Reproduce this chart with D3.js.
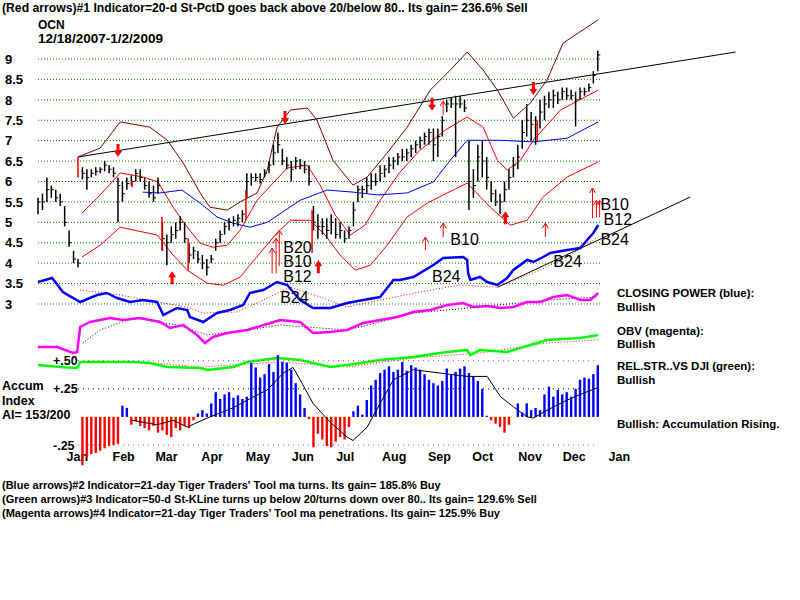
<!DOCTYPE html>
<html>
<head>
<meta charset="utf-8">
<script src="https://d3js.org/d3.v7.min.js"></script>
<style>
body { margin: 0; background: #fff; }
text { font-family: "Liberation Sans", Arial, sans-serif; }
.bold { font-weight: bold; }
</style>
</head>
<body>
<script>
// OCN daily chart, 12/18/2007 - 1/2/2009, bars every 3 calendar days
var startDate = new Date(2007, 11, 11),
    endDate = new Date(2009, 0, 2);

// [low, high, close]
var priceBars = [
    [5.2,5.6,5.5],[5.3,5.7,5.5],[5.5,6.1,5.8],[5.6,5.9,5.8],[5.5,5.8,5.6],
    [5.4,5.7,5.5],[4.9,5.4,5.0],[4.4,4.8,4.5],[4.0,4.3,4.1],[3.9,4.1,4.0],
    [6.05,6.35,6.2],[5.8,6.3,6.1],[6.1,6.3,6.2],[6.15,6.35,6.25],[6.2,6.35,6.3],
    [6.25,6.5,6.4],[6.2,6.4,6.3],[6.1,6.35,6.2],[5.0,6.1,5.9],[5.5,6.0,5.7],
    [5.8,6.1,5.95],[5.9,6.15,6.0],[6.0,6.3,6.2],[6.0,6.3,6.1],[5.8,6.1,5.9],
    [5.6,6.0,5.7],[5.5,5.9,5.6],[5.7,6.1,5.9],[4.3,5.0,4.6],[3.95,4.7,4.5],
    [4.5,4.9,4.7],[4.6,5.0,4.8],[4.8,5.15,5.0],[4.5,5.0,4.6],[4.0,4.5,4.2],
    [4.1,4.4,4.3],[4.0,4.3,4.1],[3.85,4.2,4.0],[3.7,4.1,3.9],[4.0,4.2,4.1],
    [4.3,4.6,4.5],[4.5,4.8,4.7],[4.7,5.0,4.9],[4.8,5.1,5.0],[4.9,5.15,5.05],
    [4.9,5.2,5.1],[5.0,5.3,5.2],[5.6,6.2,6.0],[5.9,6.2,6.1],[6.0,6.2,6.1],
    [5.95,6.2,6.05],[6.1,6.3,6.2],[6.2,6.5,6.4],[6.4,6.9,6.7],[6.7,7.2,6.9],
    [6.4,6.8,6.5],[6.3,6.6,6.4],[6.0,6.5,6.3],[6.3,6.6,6.5],[6.3,6.55,6.4],
    [6.2,6.5,6.3],[5.9,6.4,6.0],[4.8,5.4,5.0],[4.6,5.2,4.9],[4.7,5.1,4.9],
    [4.6,5.1,4.8],[4.7,5.2,5.0],[4.6,5.1,4.7],[4.6,5.0,4.8],[4.5,4.8,4.6],
    [4.6,4.9,4.8],[4.9,5.5,5.3],[5.5,5.9,5.8],[5.6,5.9,5.8],[5.7,6.1,5.9],
    [5.8,6.2,6.0],[5.9,6.2,6.0],[6.0,6.4,6.2],[6.1,6.4,6.3],[6.2,6.6,6.4],
    [6.3,6.6,6.5],[6.4,6.7,6.6],[6.5,6.8,6.6],[6.5,6.8,6.7],[6.6,6.9,6.8],
    [6.7,7.0,6.9],[6.8,7.1,7.0],[6.9,7.2,7.1],[6.9,7.3,7.2],[6.5,7.3,6.9],
    [6.6,7.3,7.1],[7.1,7.6,7.5],[7.7,8.0,7.9],[7.8,8.05,7.9],[6.6,8.1,7.9],
    [7.8,8.1,7.9],[7.7,8.0,7.8],[5.3,7.0,6.0],[5.6,6.3,5.9],[6.0,6.9,6.6],
    [6.1,7.0,6.5],[5.8,6.6,6.1],[5.5,6.0,5.7],[5.4,5.8,5.5],[5.2,5.7,5.5],
    [5.5,6.0,5.8],[5.8,6.3,6.1],[6.1,6.6,6.4],[6.3,6.9,6.6],[6.8,7.5,7.2],
    [7.1,7.9,7.5],[7.0,7.7,7.4],[6.9,7.6,7.4],[7.3,8.0,7.7],[7.5,8.1,7.9],
    [7.8,8.2,8.0],[7.8,8.25,8.1],[7.9,8.2,8.0],[8.0,8.3,8.2],[8.0,8.3,8.1],
    [8.0,8.25,8.1],[7.35,8.2,8.0],[8.0,8.3,8.2],[8.1,8.3,8.2],[8.2,8.4,8.3],
    [8.4,8.7,8.6],[8.7,9.2,9.1]
];

// bands and moving average, [bar index, price]
var upperBand = [[9,6.6],[14,6.82],[18.5,7.46],[25.2,7.33],[29.1,7.01],[32.7,6.45],[36.5,5.72],[38.7,5.37],
    [42.6,5.3],[45.5,5.5],[49.3,5.72],[51.6,6.28],[53.8,7.33],[56.8,7.75],[60.6,7.8],[62.8,7.5],[66.4,6.52],
    [70.9,5.91],[74.1,6.11],[78.6,6.7],[83.1,7.33],[88.3,8.24],[92.8,8.73],[96.6,9.17],[100.2,8.73],
    [103.4,8.24],[107,7.55],[110.8,7.92],[114.6,8.49],[118.2,9.39],[123.6,9.78],[126.1,9.96]];
var midBand = [[9.9,5.23],[14,5.67],[18.5,6.21],[23.6,6.11],[27,5.99],[30.4,5.37],[33.6,4.88],[36.5,4.49],
    [39.4,4.39],[42.6,4.44],[45.5,4.81],[49.3,5.54],[52.9,5.96],[56.1,6.33],[60.6,6.4],[63.5,5.91],[66.9,5.18],
    [70.3,4.69],[73.6,4.93],[77,5.54],[81.5,6.23],[86,6.77],[91.7,7.26],[96.6,7.58],[100.2,7.33],[103.4,6.52],
    [105.6,6.28],[108.6,6.52],[111.5,7.01],[117.6,7.75],[126.1,8.24]];
var lowerBand = [[9.9,4.15],[14,4.44],[18.5,4.88],[26.8,4.69],[30.4,4.2],[33.6,3.83],[38.1,3.51],[41.7,3.46],
    [45.5,3.66],[50,4.25],[53.8,4.74],[56.8,5.05],[61.3,5.05],[64.6,4.69],[68,4.2],[71.4,3.83],[74.8,3.95],
    [78.6,4.44],[83.1,5.13],[87.6,5.47],[92.1,5.72],[96.6,5.96],[101.8,5.37],[106.3,4.93],[110.1,5.05],
    [113.7,5.62],[119.1,6.11],[126.1,6.48]];
var blueMA = [[23.6,5.74],[27.5,5.72],[32.4,5.79],[36.5,5.47],[40.3,5.13],[43.9,4.98],[47.7,4.88],[51.6,5.0],
    [59,5.54],[65.1,5.79],[70.9,5.74],[76.4,5.67],[83.1,5.72],[89,5.99],[92.8,6.52],[96.6,7.01],[104.1,7.01],
    [111.5,6.97],[119.1,7.06],[126.1,7.46]];

var upperTrend = [[9, 6.6], [157, 9.17]];
var lowerTrend = [[103.4, 3.41], [146.8, 5.62]];

// [bar index, low, high] red signal bars
var signalBars = [[9,6.1,6.6],[21.2,5.86,6.03],[27.9,4.32,5.13],[33.8,3.83,4.61],[46.8,5.05,5.79],
    [61.7,4.25,5.3],[112.4,6.97,7.5]];
// [bar index, tip price, direction]
var bigArrows = [[18,6.6,"down"],[55.6,7.41,"down"],[88.7,7.73,"down"],[111.5,8.12,"down"],
    [30.2,3.8,"up"],[63.1,4.07,"up"],[105.2,5.27,"up"]];
// [bar index, tip price, tail price]
var thinArrows = [[87.2,4.64,4.32],[91.2,4.98,4.64],[114.2,4.98,4.64],[91.2,7.97,7.63],
    [52.7,4.37,3.75],[53.6,4.61,3.75],[54.3,4.81,3.93],[124.8,5.84,5.1],[125.7,5.54,5.13],[126.4,5.54,5.13]];
// [label, bar index, price at baseline]
var signalLabels = [["B20",55.2,4.25],["B10",55.2,3.9],["B12",55.2,3.53],["B24",54.5,3.02],
    ["B10",92.8,4.44],["B24",88.7,3.53],["B24",116,3.9],["B10",126.6,5.3],["B12",127.3,4.93],["B24",126.6,4.44]];

var priceTicks = [9, 8.5, 8, 7.5, 7, 6.5, 6, 5.5, 5, 4.5, 4, 3.5, 3];

// closing power (blue) and its ma
var closingPower = [[0,38],[3.2,42],[5.6,28],[9.5,18],[13.3,25],[15.5,27],[17.8,22],[20.7,18],[23.6,20],
    [26.8,18],[28.2,5],[31.3,12],[33.6,10],[34.2,3],[37.2,-2],[40.3,7],[43.2,10],[46.2,15],[47.7,27],
    [50.7,30],[53.8,38],[56.1,35],[59,20],[61.9,12],[65.8,12],[69.6,17],[73.2,20],[77,23],[80,40],
    [81.5,40],[84.5,43],[89,55],[91.2,62],[95.7,63],[96.6,60],[96.8,47],[97.3,40],[99.5,43],[101.1,38],
    [103.4,35],[105.6,42],[107,50],[110.1,60],[111.5,58],[113.7,63],[115.3,67],[119.1,70],[122.1,72],
    [123.6,80],[125,87],[126.1,95]];
var closingPowerMA = [[9.5,30],[18.5,25],[26.8,18],[33.6,13],[37.2,7],[44.8,8],[50.7,20],[56.8,33],
    [63.5,23],[69.6,13],[77,20],[86,28],[95,35],[103.4,33],[113.1,50],[119.8,65],[126.1,83]];

// OBV (magenta) and its ma
var obv = [[0,13],[4.3,13],[7.9,7],[8.8,8],[9.5,33],[11.7,38],[16.2,42],[19.1,40],[23,42],[27.5,38],
    [29.7,32],[32.7,35],[35.8,25],[37.6,17],[39.4,23],[42.6,27],[47.1,30],[52.3,37],[54.5,40],[59,38],
    [61.9,27],[65.8,28],[69.6,30],[73.2,37],[77,40],[80.9,43],[84.5,48],[88.3,50],[92.1,55],[95.7,57],
    [98,53],[101.1,54],[104.1,52],[107,53],[110.1,58],[113.1,58],[116,63],[119.1,65],[122.1,60],
    [124.3,60],[126.1,67]];
var obvMA = [[10.1,17],[14,30],[21.4,42],[31.3,35],[38.1,25],[47.1,30],[54.5,35],[63.5,32],[69.6,30],
    [77,38],[84.5,47],[99.5,53],[114.6,60],[126.1,63]];

// relative strength vs DJI (green) and its ma
var relStrength = [[0,15],[5,13],[8.8,12],[9.5,18],[14,18],[21.4,18],[25.2,17],[29.1,13],[36.5,12],
    [38.1,10],[43.9,13],[47.1,18],[53.8,22],[59,20],[61.9,17],[65.8,13],[69.6,15],[77,20],[84.5,23],
    [92.1,28],[96.6,30],[97.3,25],[99.5,30],[105.6,28],[110.8,35],[114.6,40],[122.1,42],[126.1,45]];
var relStrengthMA = [[23.6,18],[36.5,13],[54.5,18],[69.6,13],[84.5,22],[99.5,27],[114.6,37],[126.1,40]];

// accumulation index, one value per price bar
var accumValues = [
    null,null,null,null,null,null,null,null,null,null,
    -0.43,-0.36,-0.33,-0.32,-0.30,-0.28,-0.26,-0.25,-0.24,0.10,
    0.08,-0.07,-0.04,-0.08,-0.10,-0.12,-0.08,-0.14,-0.12,-0.16,
    -0.18,-0.10,-0.12,-0.08,-0.10,-0.03,0.03,0.06,0.03,0.12,
    0.22,0.16,0.20,0.22,0.17,0.19,0.16,0.18,0.48,0.44,
    0.35,0.38,0.47,0.40,0.55,0.49,0.48,0.42,0.30,0.20,
    0.08,-0.02,-0.27,-0.15,-0.20,-0.26,-0.27,-0.22,-0.18,-0.20,
    -0.09,0.05,0.10,0.02,0.15,0.28,0.33,0.39,0.42,0.45,
    0.40,0.42,0.49,0.41,0.46,0.44,0.42,0.38,0.33,0.30,
    0.28,0.32,0.43,0.38,0.40,0.43,0.45,0.39,0.36,0.32,
    0.25,0.01,-0.03,-0.06,-0.09,-0.14,-0.07,0.00,0.12,0.04,
    0.12,0.06,0.08,0.06,0.20,0.27,0.18,0.24,0.20,0.22,
    0.18,0.25,0.33,0.35,0.34,0.38,0.46
];
var accumMA = [[21.2,-0.03],[26.8,-0.07],[30.4,-0.03],[33.6,-0.09],[38.1,-0.01],[43.9,0.08],[47.1,0.15],
    [51.6,0.24],[55.2,0.39],[57.4,0.44],[59,0.33],[61.9,0.12],[65.8,-0.05],[69.6,-0.18],[70.9,-0.21],
    [74.1,-0.09],[77,0.12],[80,0.33],[84.5,0.42],[90.5,0.39],[96.6,0.36],[101.1,0.36],[104.1,0.18],
    [107,0.09],[110.1,0],[111.5,-0.01],[114.6,0.06],[119.1,0.15],[122.1,0.2],[125.9,0.26]];
var accumTicks = [0.5, 0.25, -0.25];

var svg = d3.select("body").append("svg")
    .attr("width", 800)
    .attr("height", 600)
    .style("background", "#fff");

var xTime = d3.scaleTime().domain([startDate, endDate]).range([38, 612.6]);
function xi(idx) {
    return xTime(d3.timeHour.offset(startDate, Math.round(idx * 72)));
}
var y = d3.scaleLinear().domain([3, 9]).range([304, 59]);
var yCP = d3.scaleLinear().domain([0, 100]).range([320, 220]);
var yOBV = d3.scaleLinear().domain([0, 100]).range([360, 260]);
var yRS = d3.scaleLinear().domain([0, 100]).range([380, 280]);
var yA = d3.scaleLinear().domain([-0.25, 0.5]).range([445, 360.7]);

function lineOf(scale) {
    return d3.line().x(function (d) { return xi(d[0]); }).y(function (d) { return scale(d[1]); });
}

// price grid
svg.append("g").selectAll("line")
    .data(priceTicks)
    .enter().append("line")
    .attr("x1", 38).attr("x2", 600)
    .attr("y1", function (d) { return y(d); })
    .attr("y2", function (d) { return y(d); })
    .attr("stroke", "#008000")
    .attr("stroke-dasharray", "1,2");

var yAxis = svg.append("g").attr("class", "bold")
    .call(d3.axisLeft(y).tickValues(priceTicks).tickFormat(d3.format("")).tickSize(0));
yAxis.select(".domain").remove();
yAxis.selectAll("text")
    .attr("x", 5).attr("text-anchor", "start")
    .attr("font-size", 13).attr("font-family", "Liberation Sans, Arial").attr("fill", "#000");

// month axis
var mAxis = svg.append("g").attr("class", "bold").attr("transform", "translate(0,448)")
    .call(d3.axisBottom(xTime).ticks(d3.timeMonth.every(1)).tickFormat(d3.timeFormat("%b")).tickSize(0));
mAxis.select(".domain").remove();
mAxis.selectAll("text")
    .attr("y", 13).attr("dy", 0).attr("dx", -3).attr("text-anchor", "start")
    .attr("font-size", 12.5).attr("font-family", "Liberation Sans, Arial").attr("fill", "#000");

// bands
svg.append("path").datum(upperBand).attr("d", lineOf(y))
    .attr("fill", "none").attr("stroke", "#800000");
svg.append("path").datum(midBand).attr("d", lineOf(y))
    .attr("fill", "none").attr("stroke", "#ff0000");
svg.append("path").datum(lowerBand).attr("d", lineOf(y))
    .attr("fill", "none").attr("stroke", "#ff0000");
svg.append("path").datum(blueMA).attr("d", lineOf(y))
    .attr("fill", "none").attr("stroke", "#0000ff");

// trend lines
[upperTrend, lowerTrend].forEach(function (t) {
    svg.append("path").datum(t).attr("d", lineOf(y))
        .attr("fill", "none").attr("stroke", "#000");
});

// price bars
var bars = svg.append("g");
bars.selectAll("line.hl")
    .data(priceBars)
    .enter().append("line")
    .attr("class", "hl")
    .attr("x1", function (d, i) { return xi(i); })
    .attr("x2", function (d, i) { return xi(i); })
    .attr("y1", function (d) { return y(d[0]); })
    .attr("y2", function (d) { return y(d[1]); })
    .attr("stroke", "#000").attr("stroke-width", 1.5);
bars.selectAll("line.cl")
    .data(priceBars)
    .enter().append("line")
    .attr("class", "cl")
    .attr("x1", function (d, i) { return xi(i); })
    .attr("x2", function (d, i) { return xi(i) + 2.5; })
    .attr("y1", function (d) { return y(d[2]); })
    .attr("y2", function (d) { return y(d[2]); })
    .attr("stroke", "#000");

// red signal bars
svg.append("g").selectAll("line")
    .data(signalBars)
    .enter().append("line")
    .attr("x1", function (d) { return xi(d[0]); })
    .attr("x2", function (d) { return xi(d[0]); })
    .attr("y1", function (d) { return y(d[1]); })
    .attr("y2", function (d) { return y(d[2]); })
    .attr("stroke", "#ff0000").attr("stroke-width", 1.5);

// thick arrows
svg.append("g").selectAll("path")
    .data(bigArrows)
    .enter().append("path")
    .attr("d", function (d) {
        var px = xi(d[0]), py = y(d[1]);
        var s = d[2] === "down" ? -1 : 1; // body is above tip for down arrow
        var p = "M" + (px - 1.5) + "," + (py + s * 13);
        p += "L" + (px + 1.5) + "," + (py + s * 13);
        p += "L" + (px + 1.5) + "," + (py + s * 6);
        p += "L" + (px + 4) + "," + (py + s * 6);
        p += "L" + px + "," + py;
        p += "L" + (px - 4) + "," + (py + s * 6);
        p += "L" + (px - 1.5) + "," + (py + s * 6) + "Z";
        return p;
    })
    .attr("fill", "#ff0000");

// thin arrows
svg.append("g").selectAll("path")
    .data(thinArrows)
    .enter().append("path")
    .attr("d", function (d) {
        var px = xi(d[0]), tip = y(d[1]), tail = y(d[2]);
        return "M" + px + "," + tail + "L" + px + "," + tip +
            "M" + (px - 3) + "," + (tip + 5) + "L" + px + "," + tip + "L" + (px + 3) + "," + (tip + 5);
    })
    .attr("fill", "none").attr("stroke", "#ff0000");

// closing power
svg.append("path").datum(closingPowerMA).attr("d", lineOf(yCP))
    .attr("fill", "none").attr("stroke", "#ff0000").attr("stroke-dasharray", "1,2");
svg.append("path").datum(closingPower).attr("d", lineOf(yCP))
    .attr("fill", "none").attr("stroke", "#0000ff").attr("stroke-width", 2.5);

// OBV
svg.append("path").datum(obvMA).attr("d", lineOf(yOBV))
    .attr("fill", "none").attr("stroke", "#000").attr("stroke-dasharray", "1,2");
svg.append("path").datum(obv).attr("d", lineOf(yOBV))
    .attr("fill", "none").attr("stroke", "#ff00ff").attr("stroke-width", 2.5);

// relative strength
svg.append("path").datum(relStrengthMA).attr("d", lineOf(yRS))
    .attr("fill", "none").attr("stroke", "#ff0000").attr("stroke-dasharray", "1,2");
svg.append("path").datum(relStrength).attr("d", lineOf(yRS))
    .attr("fill", "none").attr("stroke", "#00ff00").attr("stroke-width", 2.5);

// signal labels
svg.append("g").selectAll("text")
    .data(signalLabels)
    .enter().append("text")
    .attr("x", function (d) { return xi(d[1]); })
    .attr("y", function (d) { return y(d[2]); })
    .attr("font-size", 16)
    .text(function (d) { return d[0]; });

// accumulation index
svg.append("g").selectAll("line")
    .data(accumTicks)
    .enter().append("line")
    .attr("x1", 78).attr("x2", 598)
    .attr("y1", function (d) { return yA(d); })
    .attr("y2", function (d) { return yA(d); })
    .attr("stroke", function (d) { return d === 0.25 ? "#000" : "#cc33cc"; })
    .attr("stroke-dasharray", "1,4");
svg.append("line")
    .attr("x1", 80).attr("x2", 598)
    .attr("y1", yA(0)).attr("y2", yA(0))
    .attr("stroke", "#ffff99");

var aAxis = svg.append("g").attr("class", "bold")
    .call(d3.axisLeft(yA).tickValues(accumTicks).tickSize(0)
        .tickFormat(function (d) { return (d > 0 ? "+" : "-") + d3.format(".2f")(Math.abs(d)).slice(1); }));
aAxis.select(".domain").remove();
aAxis.selectAll("text")
    .attr("x", 53).attr("text-anchor", "start")
    .attr("font-size", 12.5).attr("font-family", "Liberation Sans, Arial").attr("fill", "#000");

svg.append("g").selectAll("line")
    .data(accumValues.map(function (v, i) { return [i, v]; }).filter(function (d) { return d[1] !== null; }))
    .enter().append("line")
    .attr("x1", function (d) { return xi(d[0]); })
    .attr("x2", function (d) { return xi(d[0]); })
    .attr("y1", yA(0))
    .attr("y2", function (d) { return yA(d[1]); })
    .attr("stroke", function (d) { return d[1] >= 0 ? "#0000ff" : "#ff0000"; })
    .attr("stroke-width", 2.4);
svg.append("path").datum(accumMA).attr("d", lineOf(yA))
    .attr("fill", "none").attr("stroke", "#000");

// texts
function label(str, x0, y0, size, len) {
    var t = svg.append("text").attr("class", "bold")
        .attr("x", x0).attr("y", y0)
        .attr("font-size", size || 11)
        .text(str);
    if (len) t.attr("textLength", len).attr("lengthAdjust", "spacingAndGlyphs");
}
label("(Red arrows)#1 Indicator=20-d St-PctD goes back above 20/below 80.. Its gain= 236.6% Sell", 2, 12, 12.2);
label("OCN", 38, 29, 12);
label("12/18/2007-1/2/2009", 38, 43, 12, 125);
label("(Blue arrows)#2 Indicator=21-day Tiger Traders' Tool ma turns. Its gain= 185.8% Buy", 2, 489);
label("(Green arrows)#3 Indicator=50-d St-KLine turns up below 20/turns down over 80.. Its gain= 129.6% Sell", 2, 503);
label("(Magenta arrows)#4 Indicator=21-day Tiger Traders' Tool ma penetrations. Its gain= 125.9% Buy", 2, 517);

label("CLOSING POWER (blue):", 617, 297, 11.5);
label("Bullish", 617, 311, 11.5);
label("OBV (magenta):", 617, 335, 11.5);
label("Bullish", 617, 348, 11.5);
label("REL.STR..VS DJI (green):", 617, 370, 11.5);
label("Bullish", 617, 384, 11.5);
label("Bullish: Accumulation Rising.", 617, 428, 11.5);

label("Accum", 2, 390, 12.5);
label("Index", 2, 405, 12.5);
label("AI= 153/200", 2, 419, 12.5);
</script>
</body>
</html>
